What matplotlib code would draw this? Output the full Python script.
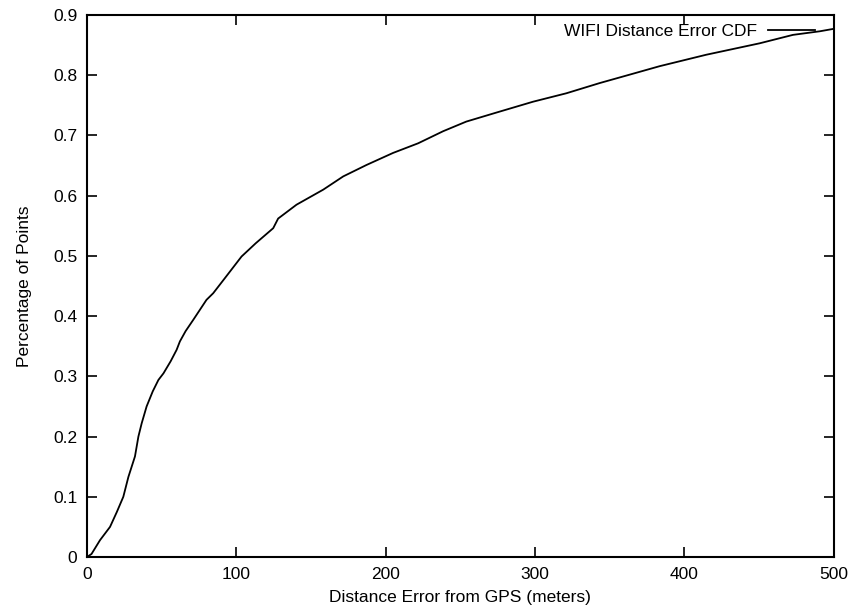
import matplotlib
matplotlib.use("Agg")
import matplotlib.pyplot as plt

plt.rcParams['font.family'] = ['Liberation Sans', 'DejaVu Sans']

# distance error (m) vs cumulative fraction
err_m = [0, 3, 8.7, 15.4, 20, 24.3, 27.7, 32.1, 34.4, 36.6, 39.9, 44, 47.8, 51.2,
         56, 60, 62.2, 66, 71.2, 80, 84.5, 92, 103.5, 113, 124.7, 128, 140.3,
         158.2, 171.6, 187.2, 205, 221.8, 238.5, 254, 274.2, 298.7, 321, 343.4,
         363.5, 383.5, 414.7, 450.5, 472.8, 490.9, 500]
cdf = [0, 0.005, 0.028, 0.05, 0.075, 0.10, 0.133, 0.167, 0.2, 0.222, 0.25, 0.275,
       0.294, 0.305, 0.325, 0.344, 0.358, 0.375, 0.394, 0.427, 0.438, 0.462, 0.499,
       0.521, 0.546, 0.562, 0.585, 0.610, 0.632, 0.651, 0.671, 0.687, 0.707, 0.723,
       0.738, 0.756, 0.770, 0.787, 0.801, 0.815, 0.834, 0.853, 0.867, 0.873, 0.877]

xticks = [0, 100, 200, 300, 400, 500]
yticks = [0, 0.1, 0.2, 0.3, 0.4, 0.5, 0.6, 0.7, 0.8, 0.9]
ytick_labels = ['0', '0.1', '0.2', '0.3', '0.4', '0.5', '0.6', '0.7', '0.8', '0.9']

fs = 12.5

fig = plt.figure(figsize=(8.55, 6.10), dpi=100)
ax = fig.add_axes([0.1018, 0.0869, 0.8731, 0.8885])

ax.plot(err_m, cdf, color='black', lw=1.3, label='WIFI Distance Error CDF')

ax.set_xlim(0, 500)
ax.set_ylim(0, 0.9)
ax.set_xticks(xticks)
ax.set_yticks(yticks)
ax.set_yticklabels(ytick_labels)
ax.tick_params(direction='in', length=7, width=1.2, top=True, right=True,
               labelsize=fs, pad=7)
for sp in ax.spines.values():
    sp.set_linewidth(1.5)

ax.set_xlabel('Distance Error from GPS (meters)', fontsize=fs, labelpad=6)
ax.set_ylabel('Percentage of Points', fontsize=fs, labelpad=15)

ax.legend(loc='upper right', frameon=False, markerfirst=False, fontsize=fs,
          handlelength=2.7, handletextpad=0.6, borderaxespad=0.3,
          bbox_to_anchor=(0.991, 1.006))

fig.savefig('out.png', dpi=100)
